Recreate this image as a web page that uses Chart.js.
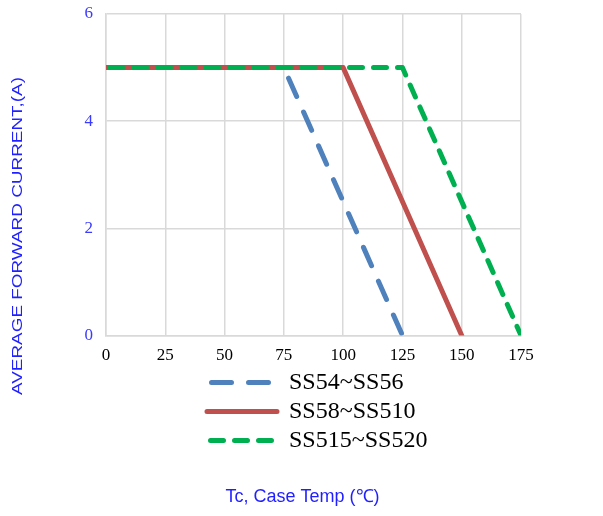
<!DOCTYPE html>
<html>
<head>
<meta charset="utf-8">
<script src="https://cdn.jsdelivr.net/npm/chart.js@4"></script>
<style>
  html, body { margin: 0; padding: 0; background: #fff; }
</style>
</head>
<body>
<canvas id="chart" width="603" height="516"></canvas>
<script>
// Derating curves: case temperature vs max average forward current
const seriesNames = ['SS54~SS56', 'SS58~SS510', 'SS515~SS520'];
const ss54Temp = [0, 75, 125];
const ss54Current = [5, 5, 0];
const ss58Temp = [0, 100, 150];
const ss58Current = [5, 5, 0];
const ss515Temp = [0, 125, 175];
const ss515Current = [5, 5, 0];
const tempTicks = [0, 25, 50, 75, 100, 125, 150, 175];
const currentTicks = [0, 2, 4, 6];
const xTitle = 'Tc, Case Temp (℃)';
const yTitle = 'AVERAGE FORWARD CURRENT,(A)';

const blueTitle = '#1f1fff';
const gridColor = '#d9d9d9';

function toPoints(xs, ys) {
    return xs.map((x, i) => ({ x: x, y: ys[i] }));
}

// y axis title sits lower than the plot centre in the original, draw it by hand
const yTitlePlugin = {
    id: 'yTitle',
    afterDraw(chart) {
        const ctx = chart.ctx;
        ctx.save();
        ctx.translate(18, 236);
        ctx.rotate(-Math.PI / 2);
        ctx.font = '15px "Liberation Sans", Arial, sans-serif';
        ctx.fillStyle = blueTitle;
        ctx.textAlign = 'center';
        ctx.textBaseline = 'middle';
        const w = ctx.measureText(yTitle).width;
        ctx.scale(318 / w, 1);
        ctx.fillText(yTitle, 0, 0);
        ctx.restore();
    }
};

// legend rows start at the same x in the original (left aligned block)
const legendShift = {
    id: 'legendShift',
    afterLayout(chart) {
        chart.legend.left = 202;
    }
};

new Chart(document.getElementById('chart'), {
    type: 'line',
    data: {
        datasets: [
            {
                label: seriesNames[0],
                data: toPoints(ss54Temp, ss54Current),
                borderColor: '#4f81bd',
                borderDash: [20, 17],
                borderDashOffset: -4.5,
                order: 2
            },
            {
                label: seriesNames[1],
                data: toPoints(ss58Temp, ss58Current),
                borderColor: '#c0504d',
                order: 1
            },
            {
                label: seriesNames[2],
                data: toPoints(ss515Temp, ss515Current),
                borderColor: '#00b050',
                borderDash: [13, 11],
                borderDashOffset: -3.5,
                order: 0
            }
        ].map(ds => Object.assign(ds, {
            backgroundColor: ds.borderColor,
            borderWidth: 5,
            borderCapStyle: 'round',
            borderJoinStyle: 'round',
            pointRadius: 0,
            fill: false,
            tension: 0
        }))
    },
    options: {
        responsive: false,
        animation: false,
        layout: {
            padding: { left: 84, right: 82, top: 14, bottom: 0 }
        },
        scales: {
            x: {
                type: 'linear',
                min: 0,
                max: 175,
                afterBuildTicks: axis => { axis.ticks = tempTicks.map(v => ({ value: v })); },
                afterFit: axis => { axis.height = 30; },
                grid: { color: gridColor, lineWidth: 1.5, drawTicks: false },
                border: { color: gridColor, width: 1.5 },
                ticks: {
                    padding: 10,
                    color: '#000',
                    maxRotation: 0,
                    font: { family: '"Liberation Serif", serif', size: 17 }
                }
            },
            y: {
                min: 0,
                max: 6,
                afterBuildTicks: axis => { axis.ticks = currentTicks.map(v => ({ value: v })); },
                afterFit: axis => { axis.width = 22; },
                grid: { color: gridColor, lineWidth: 1.5, tickLength: 10, tickColor: 'transparent' },
                border: { color: gridColor, width: 1.5 },
                ticks: {
                    padding: 3,
                    color: '#3b3bff',
                    font: { family: '"Liberation Serif", serif', size: 17 }
                }
            }
        },
        plugins: {
            legend: {
                position: 'bottom',
                fullSize: false,
                align: 'start',
                labels: {
                    boxWidth: 70,
                    boxHeight: 0,
                    padding: 5,
                    color: '#000',
                    font: { family: '"Liberation Serif", serif', size: 24 },
                    sort: (a, b) => a.datasetIndex - b.datasetIndex
                }
            },
            title: {
                display: true,
                position: 'bottom',
                text: xTitle,
                color: blueTitle,
                font: { family: '"Liberation Sans", Arial, sans-serif', size: 18, weight: 'normal' },
                padding: { top: 24, bottom: 8 }
            },
            tooltip: { enabled: false }
        }
    },
    plugins: [yTitlePlugin, legendShift]
});
</script>
</body>
</html>
